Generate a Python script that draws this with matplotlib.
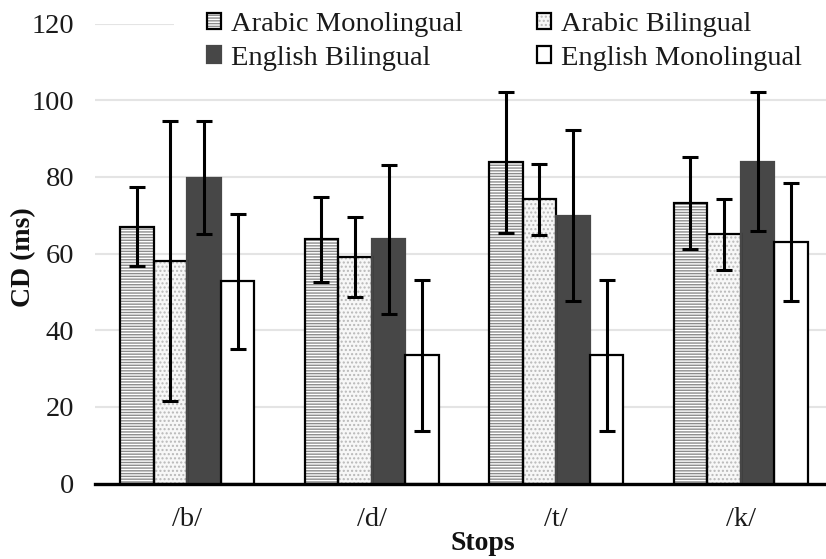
import matplotlib
matplotlib.use("Agg")
import matplotlib.pyplot as plt
from matplotlib.patches import Patch, Rectangle
from matplotlib.legend_handler import HandlerTuple
import numpy as np

plt.rcParams['font.family'] = ['Liberation Serif', 'DejaVu Serif']
plt.rcParams['hatch.linewidth'] = 1.0

categories = ['/b/', '/d/', '/t/', '/k/']
series = ['Arabic Monolingual', 'Arabic Bilingual', 'English Bilingual', 'English Monolingual']
means = {
    'Arabic Monolingual': [67.0, 63.7, 83.8, 73.2],
    'Arabic Bilingual': [58.0, 59.0, 74.1, 65.0],
    'English Bilingual': [79.8, 63.7, 69.9, 84.0],
    'English Monolingual': [52.7, 33.4, 33.4, 62.9],
}
errors = {
    'Arabic Monolingual': [10.3, 11.1, 18.4, 12.1],
    'Arabic Bilingual': [36.6, 10.4, 9.2, 9.3],
    'English Bilingual': [14.8, 19.4, 22.3, 18.2],
    'English Monolingual': [17.7, 19.7, 19.7, 15.4],
}
yticks = [0, 20, 40, 60, 80, 100, 120]

styles = {
    'Arabic Monolingual': dict(face='white', hatch='------', hcolor='#8c8c8c', edge='black'),
    'Arabic Bilingual': dict(face='#f7f7f7', hatch='....', hcolor='#b8b8b8', edge='black'),
    'English Bilingual': dict(face='#474747', hatch=None, hcolor='#474747', edge='#474747'),
    'English Monolingual': dict(face='white', hatch=None, hcolor='white', edge='black'),
}

W, H = 826, 559
fig = plt.figure(figsize=(W / 100, H / 100), dpi=100)
ax = fig.add_axes([95 / W, (H - 483.5) / H, (833 - 95) / W, 460 / H])

x = np.arange(len(categories))
bw = 0.182
handles = []
for i, s in enumerate(series):
    st = styles[s]
    pos = x + (i - 1.5) * bw
    ax.bar(pos, means[s], width=bw, color=st['face'], edgecolor=st['hcolor'],
           hatch=st['hatch'], linewidth=0, zorder=2)
    ax.bar(pos, means[s], width=bw, fill=False, edgecolor=st['edge'],
           linewidth=1.6, zorder=3)
    ax.errorbar(pos, means[s], yerr=errors[s], fmt='none', ecolor='black',
                elinewidth=2.2, capsize=6, capthick=2.2, zorder=4)
    h1 = Patch(facecolor=st['face'], edgecolor=st['hcolor'], hatch=st['hatch'], linewidth=0)
    h2 = Patch(fill=False, edgecolor=st['edge'], linewidth=1.6)
    handles.append((h1, h2))

ax.set_xlim(-0.5, 3.5)
ax.set_ylim(0, 120)
ax.set_yticks(yticks)
ax.set_xticks(x)
ax.set_xticklabels(categories)
ax.tick_params(axis='both', length=0, labelsize=20.5, colors='#1a1a1a')
ax.tick_params(axis='x', pad=17)
ax.tick_params(axis='y', pad=15)
ax.grid(axis='y', color='#e4e4e4', linewidth=1.5, zorder=0)
ax.set_axisbelow(True)
for sp in ['top', 'right', 'left']:
    ax.spines[sp].set_visible(False)
ax.spines['bottom'].set_linewidth(2.4)
ax.spines['bottom'].set_color('black')
ax.spines['bottom'].set_zorder(5)

# white legend background hiding the top gridline
fig.patches.append(Rectangle((174 / W, 1 - 62 / H), 1, 62 / H, transform=fig.transFigure,
                             facecolor='white', edgecolor='none', zorder=1))

fig.text(24 / W, 1 - 257 / H, 'CD (ms)', rotation=90, ha='center', va='center',
         fontsize=20, fontweight='bold', color='#111111')
fig.text(483 / W, 1 - 543 / H, 'Stops', ha='center', va='center',
         fontsize=20, fontweight='bold', color='#111111')

order = [0, 2, 1, 3]
leg = fig.legend([handles[k] for k in order], [series[k] for k in order],
                 handler_map={tuple: HandlerTuple(ndivide=1, pad=0)},
                 loc='upper left', bbox_to_anchor=(207 / W, 1 - 12 / H), ncol=2,
                 frameon=False, fontsize=20.5, handlelength=0.5, handleheight=0.5,
                 handletextpad=0.35, columnspacing=2.6, labelspacing=0.3, borderpad=0,
                 borderaxespad=0)
leg.set_zorder(6)
for t in leg.get_texts():
    t.set_color('#1a1a1a')

fig.savefig('out.png', dpi=100)
